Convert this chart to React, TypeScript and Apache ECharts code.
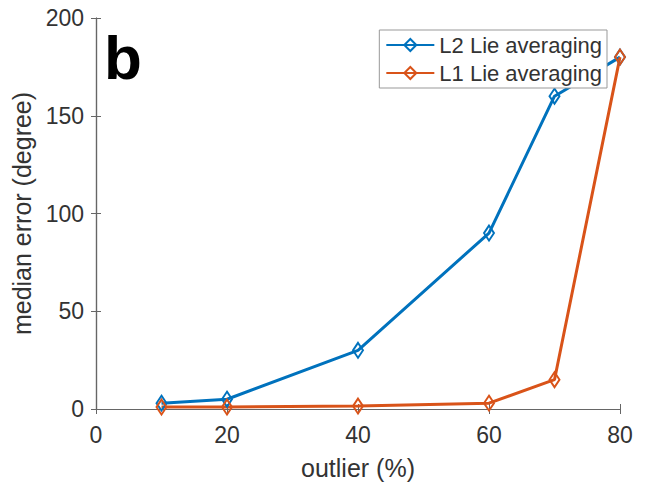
import React, { useEffect, useRef } from "react";
import * as echarts from "echarts";

const xValues = [10, 20, 40, 60, 70, 80];
const l2Values = [3, 5, 30, 90, 160, 180];
const l1Values = [1, 1, 1.5, 3, 15, 180];
const seriesNames = ["L2 Lie averaging", "L1 Lie averaging"];
const colors = ["#0072BD", "#D95319"];

const FONT = "Liberation Sans, Arial, sans-serif";
const TEXT = "#333";
const AXIS = "#666";

export default function App() {
  const ref = useRef<HTMLDivElement>(null);
  useEffect(() => {
    const chart = echarts.init(ref.current!, null, { renderer: "svg" });
    const mk = (name: string, vals: number[], color: string) => ({
      name,
      type: "line",
      data: xValues.map((x, i) => [x, vals[i]]),
      symbol: "diamond",
      symbolSize: [10, 15],
      lineStyle: { color, width: 3 },
      itemStyle: { color: "rgba(255,255,255,0)", borderColor: color, borderWidth: 2 },
      emphasis: { disabled: true },
    });
    const common = {
      min: 0,
      axisLine: { show: true, lineStyle: { color: AXIS, width: 1.2 } },
      axisTick: { show: true, inside: true, length: 5, lineStyle: { color: AXIS } },
      splitLine: { show: false },
    };
    chart.setOption({
      animation: false,
      grid: { left: 96, right: 31, top: 18, bottom: 81 },
      legend: {
        orient: "vertical",
        right: 44,
        top: 30,
        data: seriesNames,
        backgroundColor: "#fff",
        borderColor: "#999",
        borderWidth: 1,
        padding: [4, 5, 4, 6],
        itemGap: 6,
        itemWidth: 48,
        itemHeight: 15,
        textStyle: { fontFamily: FONT, fontSize: 22, color: TEXT },
        z: 10,
      },
      xAxis: [
        {
          ...common,
          type: "value",
          max: 80,
          interval: 20,
          name: "outlier (%)",
          nameLocation: "middle",
          nameGap: 46,
          nameTextStyle: { fontFamily: FONT, fontSize: 25, color: TEXT },
          axisLabel: { fontFamily: FONT, fontSize: 23, color: TEXT, margin: 14 },
        },
        {
          ...common,
          type: "value",
          position: "top",
          max: 80,
          interval: 20,
          axisLabel: { show: false },
        },
      ],
      yAxis: [
        {
          ...common,
          type: "value",
          max: 200,
          interval: 50,
          name: "median error (degree)",
          nameLocation: "middle",
          nameGap: 58,
          nameTextStyle: { fontFamily: FONT, fontSize: 25, color: TEXT },
          axisLabel: { fontFamily: FONT, fontSize: 23, color: TEXT, margin: 12 },
        },
        {
          ...common,
          type: "value",
          position: "right",
          max: 200,
          interval: 50,
          axisLabel: { show: false },
        },
      ],
      graphic: [
        {
          type: "text",
          left: 104,
          top: 26,
          style: { text: "b", font: `bold 62px ${FONT}`, fill: "#000" },
        },
      ],
      series: [mk(seriesNames[0], l2Values, colors[0]), mk(seriesNames[1], l1Values, colors[1])],
    });
    return () => chart.dispose();
  }, []);
  return <div ref={ref} style={{ width: 651, height: 490, position: "absolute", left: 0, top: 0, background: "#fff" }} />;
}
